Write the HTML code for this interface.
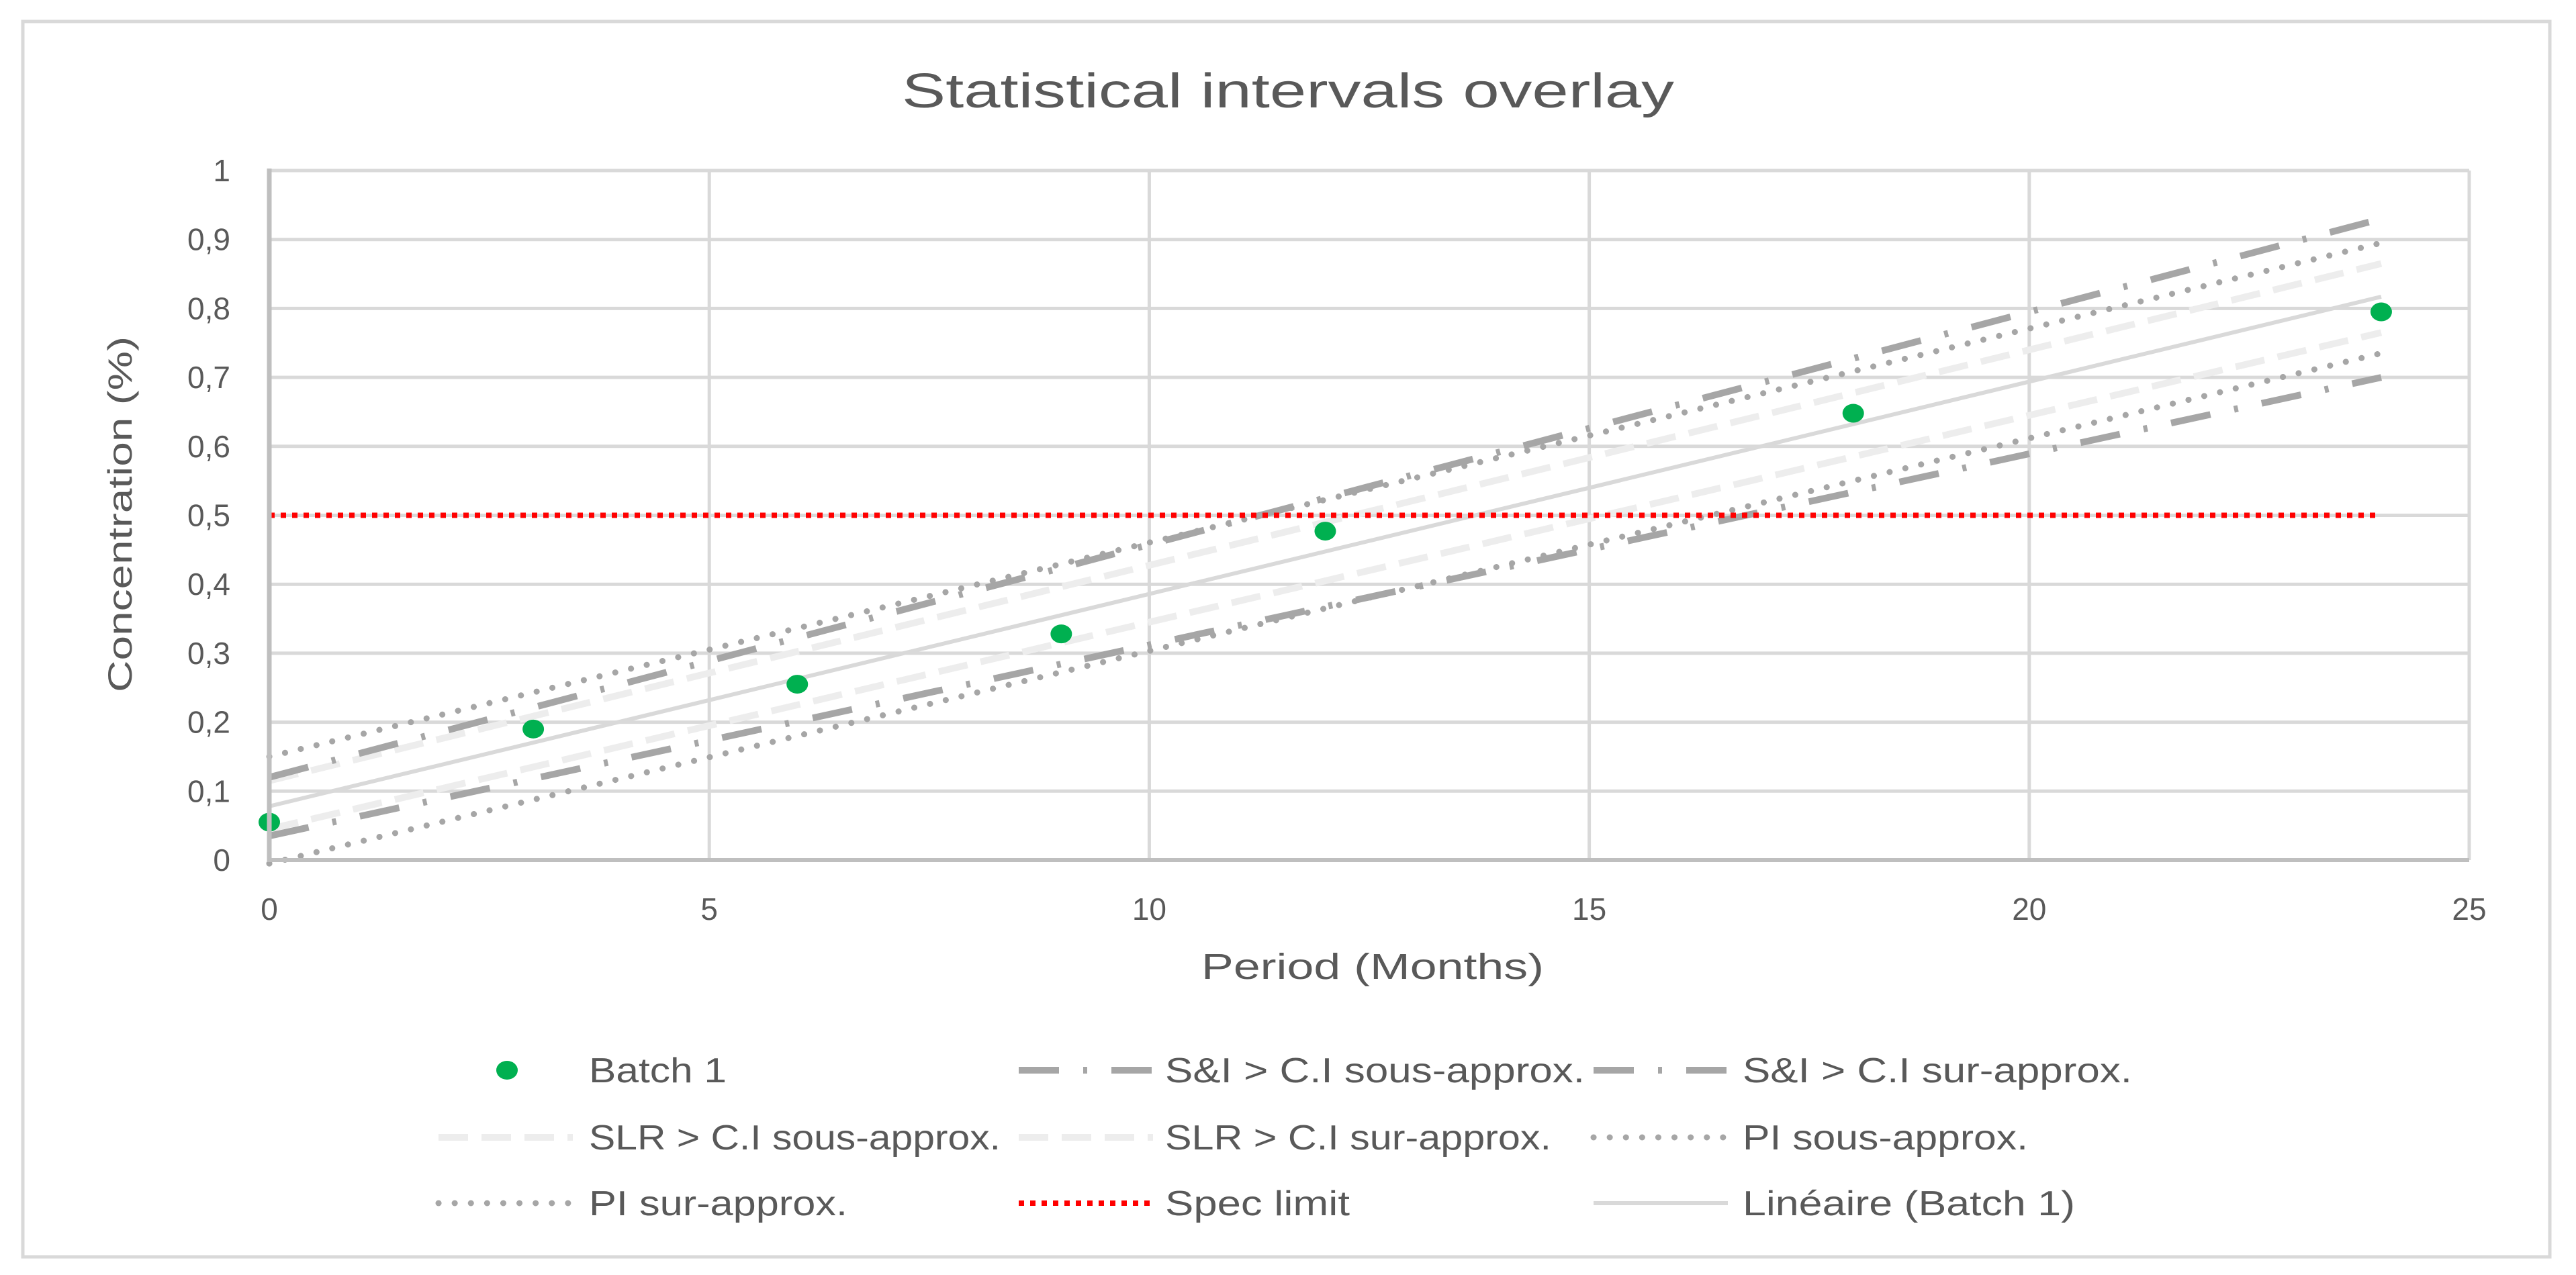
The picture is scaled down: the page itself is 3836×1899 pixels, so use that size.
<!DOCTYPE html>
<html><head><meta charset="utf-8"><style>
html,body{margin:0;padding:0;background:#fff}
svg{display:block}
text{font-family:"Liberation Sans",sans-serif;fill:#595959}
</style></head><body>
<svg id="chart" width="3836" height="1899" viewBox="0 0 3836 1899" xmlns="http://www.w3.org/2000/svg">
<rect x="34" y="32" width="3763" height="1840" fill="#fff" stroke="#d9d9d9" stroke-width="5"/>
<text x="1918" y="160" font-size="72" text-anchor="middle" textLength="1150" lengthAdjust="spacingAndGlyphs">Statistical intervals overlay</text>
<g id="grid"></g>
<g id="series"></g>
<g id="axes"></g>
<text x="2044" y="1458" font-size="54" text-anchor="middle" textLength="510" lengthAdjust="spacingAndGlyphs">Period (Months)</text>
<text transform="translate(196,766) rotate(-90)" font-size="50" text-anchor="middle" textLength="530" lengthAdjust="spacingAndGlyphs">Concentration (%)</text>
<g id="legend"></g>
</svg>
<script>
const xTicks = [0,5,10,15,20,25];
const yTicks = [0,0.1,0.2,0.3,0.4,0.5,0.6,0.7,0.8,0.9,1];
const yTickLabels = ["0","0,1","0,2","0,3","0,4","0,5","0,6","0,7","0,8","0,9","1"];
const batchX = [0,3,6,9,12,18,24];
const batchY = [0.055,0.19,0.255,0.328,0.477,0.648,0.795];
const lineX = [0,24];
const siSous = [0.035,0.70];
const siSur = [0.12,0.93];
const slrSous = [0.045,0.765];
const slrSur = [0.115,0.865];
const piSous = [-0.005,0.735];
const piSur = [0.15,0.895];
const specY = [0.5,0.5];
const linY = [0.078,0.817];

const NS="http://www.w3.org/2000/svg";
const X0=401,X1=3677,Y0=1281,Y1=254;
const sx=v=>X0+(v-0)/(25-0)*(X1-X0);
const sy=v=>Y0-(v-0)/(1-0)*(Y0-Y1);
function mk(tag,attrs,parent){const e=document.createElementNS(NS,tag);for(const k in attrs)e.setAttribute(k,attrs[k]);parent.appendChild(e);return e;}
const grid=document.getElementById('grid'),series=document.getElementById('series'),axes=document.getElementById('axes'),legend=document.getElementById('legend');

yTicks.forEach((t,i)=>{
  if(i>0){const l=mk('line',{x1:X0,x2:X1,y1:sy(t),y2:sy(t),stroke:'#d9d9d9','stroke-width':5},grid);
  
  }
  const tx=mk('text',{x:343,y:sy(t)+16,'font-size':46,'text-anchor':'end'},axes);
  tx.textContent=yTickLabels[i];
  
  
});
xTicks.forEach(t=>{
  if(t>0){const l=mk('line',{x1:sx(t),x2:sx(t),y1:Y1,y2:Y0,stroke:'#d9d9d9','stroke-width':5},grid);
  
  }
  const tx=mk('text',{x:sx(t),y:1370,'font-size':46,'text-anchor':'middle'},axes);
  tx.textContent=String(t);
  
  
});
const ax1=mk('line',{x1:X0,x2:X0,y1:Y1-3,y2:Y0+3,stroke:'#bfbfbf','stroke-width':7},axes);


const ax2=mk('line',{x1:X0,x2:X1,y1:Y0,y2:Y0,stroke:'#bfbfbf','stroke-width':6},axes);



const styles={
  si:{stroke:'#a6a6a6','stroke-width':10,'stroke-dasharray':'60 36 6 36','stroke-linecap':'butt'},
  slr:{stroke:'#ededed','stroke-width':10,'stroke-dasharray':'44 20'},
  pi:{stroke:'#a6a6a6','stroke-width':9,'stroke-dasharray':'0.1 24','stroke-linecap':'round'},
  spec:{stroke:'#ff0000','stroke-width':8,'stroke-dasharray':'8 9'},
  lin:{stroke:'#d9d9d9','stroke-width':6}
};
function drawLine(xs,ys,st,name){
  const e=mk('line',Object.assign({x1:sx(xs[0]),y1:sy(ys[0]),x2:sx(xs[1]),y2:sy(ys[1]),fill:'none'},st),series);
  
  
}
drawLine(lineX,slrSous,styles.slr,'slr-ci-sous-line');
drawLine(lineX,slrSur,styles.slr,'slr-ci-sur-line');
drawLine(lineX,linY,styles.lin,'linear-trend-line');
drawLine(lineX,piSous,styles.pi,'pi-sous-line');
drawLine(lineX,piSur,styles.pi,'pi-sur-line');
drawLine(lineX,siSous,styles.si,'si-ci-sous-line');
drawLine(lineX,siSur,styles.si,'si-ci-sur-line');
drawLine(lineX,specY,styles.spec,'spec-limit-line');
batchX.forEach((x,i)=>{
  const c=mk('ellipse',{cx:sx(x),cy:sy(batchY[i]),rx:16,ry:14,fill:'#00b050'},series);
  
  
});

const rows=[1594,1694,1792];
const items=[
  {t:'Batch 1',c:0,r:0,w:205,m:'dot'},
  {t:'S&I > C.I sous-approx.',c:1,r:0,w:625,s:styles.si},
  {t:'S&I > C.I sur-approx.',c:2,r:0,w:580,s:styles.si},
  {t:'SLR > C.I sous-approx.',c:0,r:1,w:613,s:styles.slr},
  {t:'SLR > C.I sur-approx.',c:1,r:1,w:575,s:styles.slr},
  {t:'PI sous-approx.',c:2,r:1,w:425,s:styles.pi},
  {t:'PI sur-approx.',c:0,r:2,w:385,s:styles.pi},
  {t:'Spec limit',c:1,r:2,w:275,s:styles.spec},
  {t:'Linéaire (Batch 1)',c:2,r:2,w:495,s:styles.lin}
];
const colLine=[653,1517,2373],colText=[877,1735,2595];
items.forEach(it=>{
  const y=rows[it.r];
  const g=mk('g',{},legend);
  
  
  if(it.m==='dot'){mk('ellipse',{cx:755,cy:y,rx:16,ry:14,fill:'#00b050'},g);}
  else{mk('line',Object.assign({x1:colLine[it.c],x2:colLine[it.c]+200,y1:y,y2:y},it.s),g);}
  const tx=mk('text',{x:colText[it.c],y:y+18,'font-size':52,textLength:it.w,lengthAdjust:'spacingAndGlyphs'},g);
  tx.textContent=it.t;
});
</script>
</body></html>
